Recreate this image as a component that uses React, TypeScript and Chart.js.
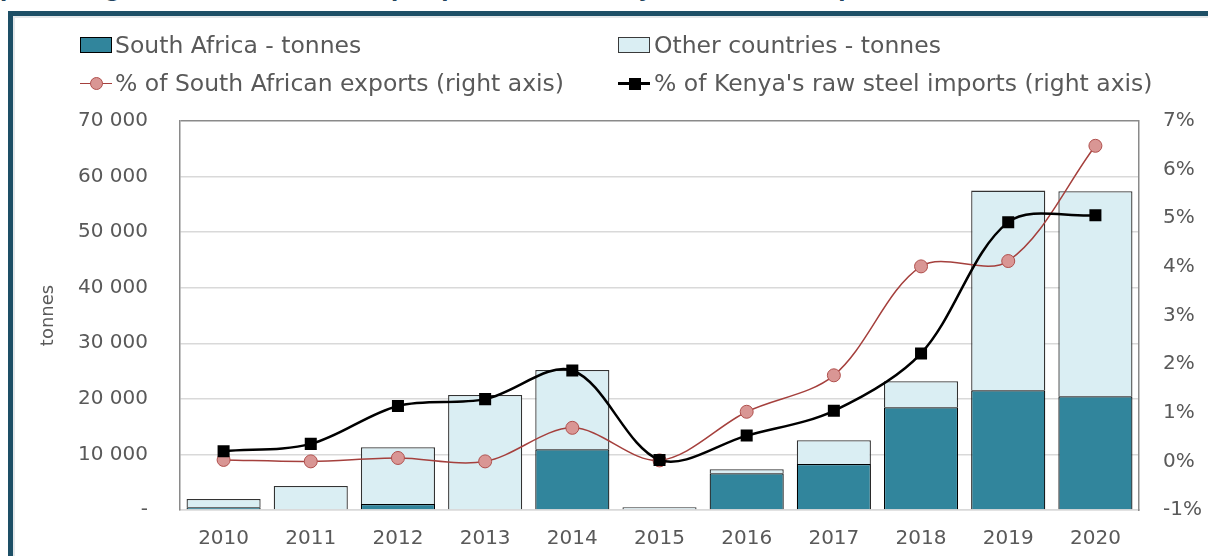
import React, { useEffect, useRef } from "react";
import { Chart, registerables } from "chart.js";

Chart.register(...registerables);

const years = ["2010", "2011", "2012", "2013", "2014", "2015", "2016", "2017", "2018", "2019", "2020"];
const southAfricaTonnes = [490, 0, 1080, 0, 10920, 0, 6600, 8280, 18480, 21540, 20480];
const otherCountriesTonnes = [1490, 4320, 10210, 20700, 14280, 500, 730, 4260, 4680, 35940, 36900];
const saExportsPct = [0.03, 0.0, 0.07, 0.0, 0.69, 0.02, 1.02, 1.77, 4.01, 4.12, 6.49];
const kenyaImportsPct = [0.21, 0.36, 1.14, 1.28, 1.87, 0.03, 0.53, 1.04, 2.22, 4.92, 5.06];
const leftTicks = { min: 0, max: 70000, step: 10000 };
const rightTicks = { min: -1, max: 7, step: 1 };

const FONT = "'DejaVu Sans', sans-serif";
const TEXT = "#595959";
const SA_FILL = "#31859c";
const OTHER_FILL = "#daeef3";

function fmtThousands(v: number): string {
  if (v === 0) return "-";
  const s = String(Math.round(v));
  return s.replace(/\B(?=(\d{3})+(?!\d))/g, " ");
}

export default function App() {
  const ref = useRef<HTMLCanvasElement | null>(null);

  useEffect(() => {
    const canvas = ref.current;
    if (!canvas) return;
    const chart = new Chart(canvas, {
      type: "bar",
      data: {
        labels: years,
        datasets: [
          {
            type: "line",
            label: "% of Kenya's raw steel imports (right axis)",
            data: kenyaImportsPct,
            yAxisID: "y1",
            borderColor: "#000000",
            borderWidth: 2.5,
            pointStyle: "rect",
            pointRadius: 8.5,
            pointBackgroundColor: "#000000",
            pointBorderColor: "#000000",
            pointBorderWidth: 0,
            tension: 0.33,
            order: 0,
          } as any,
          {
            type: "line",
            label: "% of South African exports (right axis)",
            data: saExportsPct,
            yAxisID: "y1",
            borderColor: "#a5403d",
            borderWidth: 1.5,
            pointStyle: "circle",
            pointRadius: 6.5,
            pointBackgroundColor: "#d99694",
            pointBorderColor: "#b0504d",
            pointBorderWidth: 1,
            tension: 0.33,
            order: 1,
          } as any,
          {
            type: "bar",
            label: "South Africa - tonnes",
            data: southAfricaTonnes,
            yAxisID: "y",
            backgroundColor: SA_FILL,
            borderColor: "#000000",
            borderWidth: 1.2,
            barPercentage: 0.85,
            categoryPercentage: 1,
            stack: "s",
            order: 2,
          } as any,
          {
            type: "bar",
            label: "Other countries - tonnes",
            data: otherCountriesTonnes,
            yAxisID: "y",
            backgroundColor: OTHER_FILL,
            borderColor: "#333333",
            borderWidth: 1.3,
            barPercentage: 0.85,
            categoryPercentage: 1,
            stack: "s",
            order: 3,
          } as any,
        ],
      },
      options: {
        responsive: false,
        animation: false,
        layout: { padding: { top: 121, left: 0, right: 0, bottom: 0 } },
        plugins: {
          legend: { display: false },
          title: { display: false },
          tooltip: { enabled: false },
        },
        scales: {
          x: {
            stacked: true,
            grid: { display: false, drawTicks: false },
            border: { display: true, color: "#d9d9d9", width: 1.5 },
            ticks: {
              color: TEXT,
              font: { family: FONT, size: 20 },
              padding: 17,
              maxRotation: 0,
            },
            afterFit: (s: any) => {
              s.height = 46;
            },
          },
          y: {
            stacked: true,
            position: "left",
            min: leftTicks.min,
            max: leftTicks.max,
            grid: {
              drawTicks: false,
              color: (ctx: any) => (ctx.tick && ctx.tick.value === leftTicks.max ? "#8a8a8a" : "#d9d9d9"),
              lineWidth: 1.5,
            },
            border: { display: true, color: "#8a8a8a", width: 1.5 },
            ticks: {
              stepSize: leftTicks.step,
              color: TEXT,
              font: { family: FONT, size: 20 },
              padding: 32,
              callback: (v: any) => fmtThousands(Number(v)),
            },
            title: {
              display: true,
              text: "tonnes",
              color: TEXT,
              font: { family: FONT, size: 18 },
              padding: { top: 38, bottom: 0 },
            },
            afterFit: (s: any) => {
              s.width = 180;
            },
          },
          y1: {
            stacked: false,
            position: "right",
            min: rightTicks.min,
            max: rightTicks.max,
            grid: { display: false, drawTicks: false },
            border: { display: true, color: "#8a8a8a", width: 1.5 },
            ticks: {
              stepSize: rightTicks.step,
              color: TEXT,
              font: { family: FONT, size: 20 },
              padding: 24,
              callback: (v: any) => `${v}%`,
            },
            afterFit: (s: any) => {
              s.width = 69;
            },
          },
        },
      } as any,
    });
    return () => chart.destroy();
  }, []);

  const legendText: React.CSSProperties = {
    position: "absolute",
    fontFamily: FONT,
    fontSize: "23.5px",
    lineHeight: "28px",
    color: TEXT,
    whiteSpace: "nowrap",
  };

  return (
    <div
      style={{
        position: "fixed",
        left: 0,
        top: 0,
        width: 1208,
        height: 556,
        overflow: "hidden",
        background: "#ffffff",
      }}
    >
      <div
        style={{
          position: "absolute",
          left: 0,
          top: -22,
          fontFamily: FONT,
          fontWeight: "bold",
          fontSize: "21px",
          lineHeight: "24px",
          color: "#23445e",
          whiteSpace: "nowrap",
        }}
      >
        percentage of South African scrap exports and of Kenya's raw steel imports, 2010–2020
      </div>
      <div
        style={{
          position: "absolute",
          left: 8,
          top: 11,
          width: 1400,
          height: 800,
          border: "5px solid #1d4f66",
          boxShadow: "inset 2px 2px 0 0 #e4e8ea",
        }}
      />
      <canvas ref={ref} width={1208} height={556} style={{ position: "absolute", left: 0, top: 0 }} />

      <div style={{ position: "absolute", left: 80, top: 37, width: 32, height: 16, background: SA_FILL, border: "1px solid #000", boxSizing: "border-box" }} />
      <div style={{ ...legendText, left: 115, top: 31 }}>South Africa - tonnes</div>

      <div style={{ position: "absolute", left: 618, top: 37, width: 32, height: 16, background: OTHER_FILL, border: "1px solid #3a3a3a", boxSizing: "border-box" }} />
      <div style={{ ...legendText, left: 654, top: 31 }}>Other countries - tonnes</div>

      <div style={{ position: "absolute", left: 80, top: 82.5, width: 32, height: 1.5, background: "#a5403d" }} />
      <div style={{ position: "absolute", left: 90, top: 77, width: 13, height: 13, borderRadius: "50%", background: "#d99694", border: "1px solid #b0504d", boxSizing: "border-box" }} />
      <div style={{ ...legendText, left: 115, top: 69 }}>% of South African exports (right axis)</div>

      <div style={{ position: "absolute", left: 618, top: 82, width: 32, height: 2.5, background: "#000" }} />
      <div style={{ position: "absolute", left: 628.5, top: 77.5, width: 12, height: 12, background: "#000" }} />
      <div style={{ ...legendText, left: 654, top: 69 }}>% of Kenya's raw steel imports (right axis)</div>
    </div>
  );
}
